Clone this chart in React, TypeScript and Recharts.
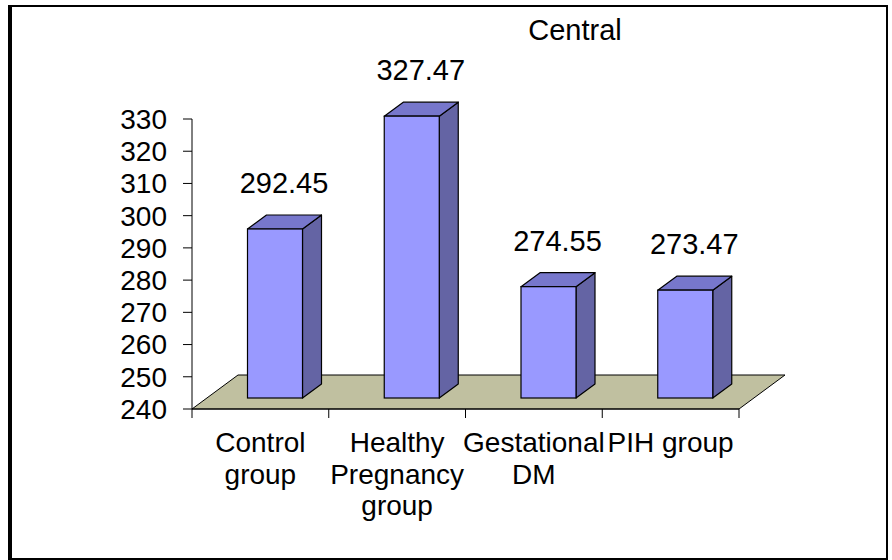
import React from 'react'
import { BarChart, Bar, XAxis, YAxis, ReferenceArea, LabelList } from 'recharts'

const categories = ['Control\ngroup', 'Healthy\nPregnancy\ngroup', 'Gestational\nDM', 'PIH group']
const centralValues = [292.45, 327.47, 274.55, 273.47]
const yTicks = [240, 250, 260, 270, 280, 290, 300, 310, 320, 330]

const data = categories.map((name, i) => ({ name, central: centralValues[i] }))

const FONT = '"Liberation Sans", Arial, sans-serif'
const FS = 28

// 3d projection offsets
const FLOOR_DX = 46
const FLOOR_DY = 34
const BAR_SHIFT_X = 14.5
const BAR_SHIFT_Y = 11
const DEPTH_X = 19
const DEPTH_Y = 14
const BAND = 547 / 4

const Floor = (props: any) => {
    const { x, y, width, height } = props
    const yb = y + height
    const pts = `${x},${yb} ${x + width},${yb} ${x + width + FLOOR_DX},${yb - FLOOR_DY} ${x + FLOOR_DX},${yb - FLOOR_DY}`
    return <polygon points={pts} fill="#C0C0A0" stroke="#000" strokeWidth={1} />
}

const Box = (props: any) => {
    const { x, y, width, height } = props
    const x0 = x + BAR_SHIFT_X
    const y0 = y - BAR_SHIFT_Y
    const yb = y0 + height
    const x1 = x0 + width
    return (
        <g>
            <polygon
                points={`${x1},${y0} ${x1 + DEPTH_X},${y0 - DEPTH_Y} ${x1 + DEPTH_X},${yb - DEPTH_Y} ${x1},${yb}`}
                fill="#6464A4" stroke="#000" strokeWidth={1.2} strokeLinejoin="round"
            />
            <polygon
                points={`${x0},${y0} ${x0 + DEPTH_X},${y0 - DEPTH_Y} ${x1 + DEPTH_X},${y0 - DEPTH_Y} ${x1},${y0}`}
                fill="#7777CC" stroke="#000" strokeWidth={1.2} strokeLinejoin="round"
            />
            <rect x={x0} y={y0} width={width} height={height} fill="#9999FF" stroke="#000" strokeWidth={1.2} />
        </g>
    )
}

const ValueLabel = (props: any) => {
    const { x, y, width, value } = props
    return (
        <text
            x={x + width / 2 + BAR_SHIFT_X + 9}
            y={y - BAR_SHIFT_Y - DEPTH_Y - 22}
            textAnchor="middle"
            fontFamily={FONT}
            fontSize={29}
            fill="#000"
        >
            {value}
        </text>
    )
}

const CategoryTick = (props: any) => {
    const { x, y, payload, index } = props
    const lines = String(payload.value).split('\n')
    return (
        <g>
            <line x1={x - BAND / 2} y1={y} x2={x - BAND / 2} y2={y + 9} stroke="#000" />
            {index === categories.length - 1 && (
                <line x1={x + BAND / 2} y1={y} x2={x + BAND / 2} y2={y + 9} stroke="#000" />
            )}
            {lines.map((l, i) => (
                <text key={i} x={x} y={y + 43 + i * 31.5} textAnchor="middle" fontFamily={FONT} fontSize={FS} fill="#000">
                    {l}
                </text>
            ))}
        </g>
    )
}

export default function App() {
    return (
        <div style={{ position: 'absolute', left: 0, top: 0, width: 892, height: 560, background: '#fff' }}>
            <div
                style={{
                    position: 'absolute', left: 8, top: 5, width: 874, height: 551,
                    borderTop: '2px solid #000', borderBottom: '2px solid #000',
                    borderLeft: '4px solid #000', borderRight: '2px solid #000',
                }}
            />
            <div
                style={{
                    position: 'absolute', left: 0, width: 1150, top: 14, textAlign: 'center',
                    fontFamily: FONT, fontSize: 29, color: '#000', lineHeight: '32px',
                }}
            >
                Central
            </div>
            <BarChart
                width={892}
                height={560}
                data={data}
                margin={{ top: 119, right: 153, left: 132, bottom: 51 }}
                barSize={55}
                style={{ position: 'absolute', left: 0, top: 0 }}
            >
                <ReferenceArea y1={240} y2={250} shape={<Floor />} ifOverflow="visible" />
                <XAxis
                    dataKey="name"
                    height={100}
                    interval={0}
                    tickLine={false}
                    tickSize={0}
                    tickMargin={0}
                    axisLine={{ stroke: '#000' }}
                    tick={<CategoryTick />}
                />
                <YAxis
                    width={60}
                    domain={[240, 330]}
                    ticks={yTicks}
                    interval={0}
                    axisLine={{ stroke: '#000' }}
                    tickLine={{ stroke: '#000' }}
                    tickSize={9}
                    tickMargin={16}
                    tick={{ fill: '#000', fontFamily: FONT, fontSize: FS }}
                />
                <Bar dataKey="central" shape={<Box />} isAnimationActive={false}>
                    <LabelList dataKey="central" content={<ValueLabel />} />
                </Bar>
            </BarChart>
        </div>
    )
}
